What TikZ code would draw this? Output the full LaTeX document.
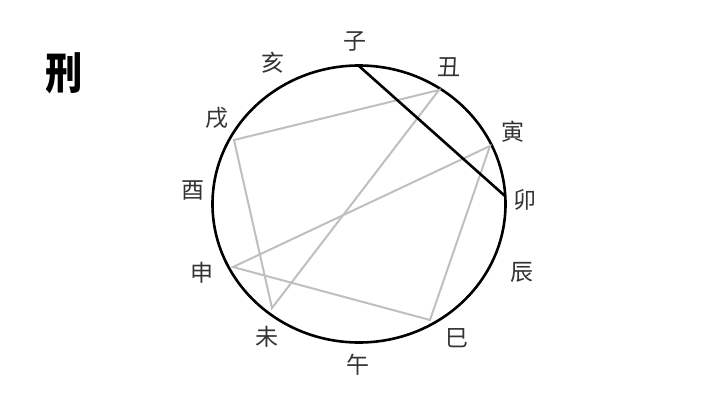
\documentclass[tikz,border=0pt]{standalone}
\usepackage{fontspec}
\newfontfamily\cjk{Noto Sans CJK SC}
\begin{document}
\begin{tikzpicture}[x=1pt,y=-1pt,
  lbl/.style={font=\cjk\fontsize{23}{23}\selectfont, text=black!80, inner sep=0pt},
  chordg/.style={draw=black!25, line width=2pt, line join=miter},
  chordb/.style={draw=black, line width=2.6pt}]
\useasboundingbox (0,0) rectangle (720,405);
\node[font=\cjk\bfseries\fontsize{44}{44}\selectfont, inner sep=0pt, xscale=0.85] (title) at (64,73) {刑};
\draw[line width=2.6pt] (359,204) ellipse [x radius=146.5, y radius=138.5];
\coordinate (pZi) at (359,66);
\coordinate (pMao) at (505,196);
\coordinate (pChou) at (439,90);
\coordinate (pXu) at (234,140);
\coordinate (pWei) at (272,308);
\coordinate (pYin) at (490,146);
\coordinate (pShen) at (233,267);
\coordinate (pSi) at (430,320);
\draw[chordg] (pChou) -- (pXu) -- (pWei) -- cycle;
\draw[chordg] (pYin) -- (pShen) -- (pSi) -- cycle;
\draw[chordb] (pZi) -- (pMao);
\node[lbl] (zi) at (355,41) {子};
\node[lbl] (chou) at (449,67) {丑};
\node[lbl] (yin) at (513,132) {寅};
\node[lbl] (mao) at (525,200) {卯};
\node[lbl] (chen) at (522,272) {辰};
\node[lbl] (si) at (457,338) {巳};
\node[lbl] (wu) at (358,365) {午};
\node[lbl] (wei) at (267,337) {未};
\node[lbl] (shen) at (202,273) {申};
\node[lbl] (you) at (193,190) {酉};
\node[lbl] (xu) at (217,118) {戌};
\node[lbl] (hai) at (273,63) {亥};
\end{tikzpicture}
\end{document}
